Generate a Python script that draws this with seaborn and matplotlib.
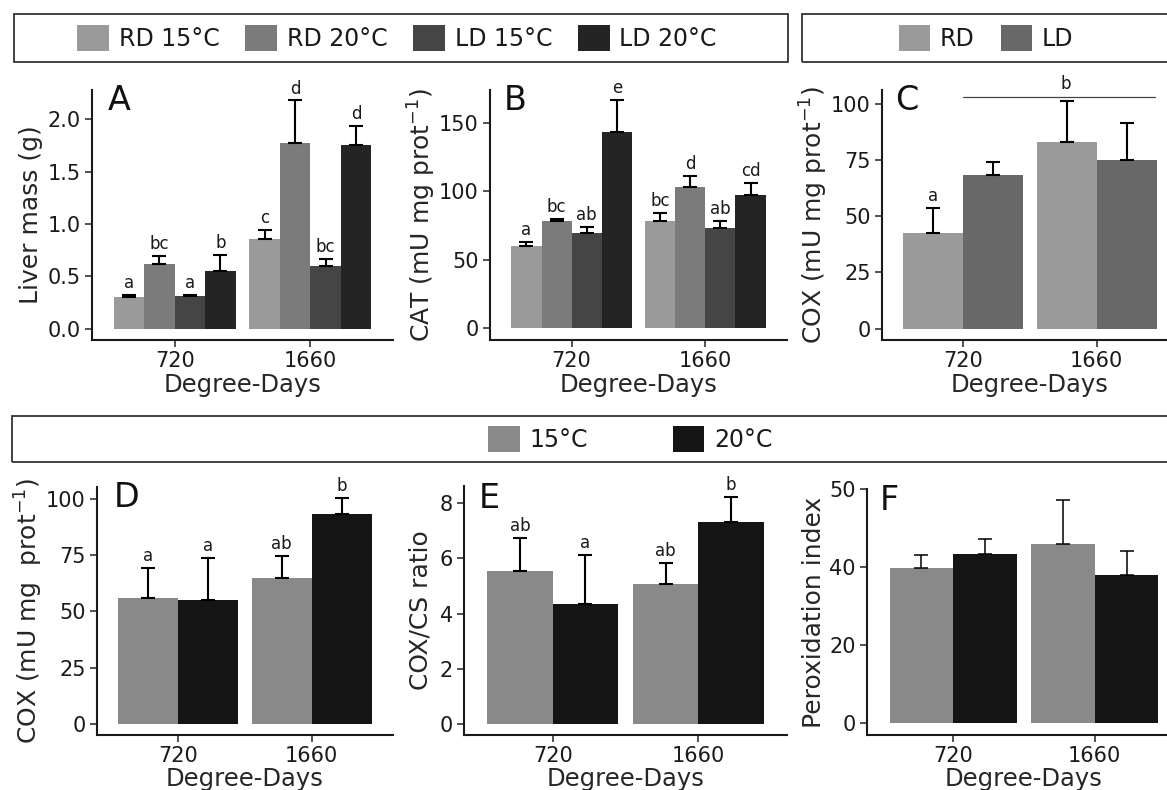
import pandas as pd
import matplotlib
matplotlib.use('Agg')
import matplotlib.pyplot as plt
import seaborn as sns
from matplotlib.patches import Rectangle, Patch

# categories
days = ['720', '1660']
groups_ab = ['RD 15°C', 'RD 20°C', 'LD 15°C', 'LD 20°C']
groups_c = ['RD', 'LD']
groups_def = ['15°C', '20°C']

# colours
pal_ab = ['#9a9a9a', '#7b7b7b', '#454545', '#242424']
pal_c = ['#9a9a9a', '#686868']
pal_def = ['#898989', '#141414']

# values are listed 720 first then 1660, groups in legend order
liver_mean = [0.30, 0.62, 0.31, 0.55, 0.86, 1.77, 0.60, 1.75]
liver_se = [0.02, 0.075, 0.015, 0.15, 0.08, 0.41, 0.07, 0.19]
liver_letters = ['a', 'bc', 'a', 'b', 'c', 'd', 'bc', 'd']

cat_mean = [59.8, 78.0, 69.5, 143.0, 78.0, 103.0, 73.0, 97.6]
cat_se = [3.1, 2.0, 4.4, 23.6, 6.0, 8.0, 5.0, 8.4]
cat_letters = ['a', 'bc', 'ab', 'e', 'bc', 'd', 'ab', 'cd']

coxc_mean = [42.4, 68.2, 83.0, 74.7]
coxc_se = [11.1, 5.6, 17.9, 16.7]
coxc_letters = ['a', '', '', '']
coxc_bracket = [0.0, 1.44, 103.0]   # x from, x to, y
coxc_bracket_letter = 'b'

coxd_mean = [56.0, 55.1, 64.8, 93.3]
coxd_se = [13.2, 18.8, 10.0, 7.1]
coxd_letters = ['a', 'a', 'ab', 'b']

ratio_mean = [5.55, 4.36, 5.08, 7.33]
ratio_se = [1.18, 1.76, 0.74, 0.91]
ratio_letters = ['ab', 'a', 'ab', 'b']

perox_mean = [39.7, 43.3, 46.0, 37.9]
perox_se = [3.3, 3.8, 11.1, 6.2]
perox_letters = ['', '', '', '']
perox_ticks = [0, 20, 40, 60]
perox_ticklabels = ['0', '20', '40', '50']


def make_df(groups, mean, se, letters):
    rows = []
    k = 0
    for d in days:
        for g in groups:
            rows.append({'dd': d, 'group': g, 'mean': mean[k], 'se': se[k], 'letter': letters[k]})
            k += 1
    return pd.DataFrame(rows)


sns.set_style('ticks')
plt.rcParams['font.family'] = ['DejaVu Sans']
plt.rcParams['text.color'] = '#1a1a1a'

W, H = 1167, 790
fig = plt.figure(figsize=(W / 100, H / 100), dpi=100)


def add_ax(x0, x1, y0, y1):
    return fig.add_axes([x0 / W, 1 - y1 / H, (x1 - x0) / W, (y1 - y0) / H])


def bar_panel(ax, df, groups, palette, ylim, yticks, ylabel, letter, letter_pos,
              ylab_x, yticklabels=None, elw=1.5):
    sns.barplot(data=df, x='dd', y='mean', hue='group', order=days, hue_order=groups,
                palette=palette, width=0.9, gap=0, errorbar=None, saturation=1,
                legend=False, linewidth=0, ax=ax)
    n = len(groups)
    w = 0.9 / n
    for bar in ax.patches:
        cx = bar.get_x() + bar.get_width() / 2
        ci = int(round(cx))
        hi = int(round((cx - ci + 0.45) / w - 0.5))
        row = df[(df['dd'] == days[ci]) & (df['group'] == groups[hi])].iloc[0]
        ax.errorbar(cx, row['mean'], yerr=[[0], [row['se']]], fmt='none',
                    ecolor='black', elinewidth=elw, capsize=5, capthick=elw)
        if row['letter']:
            ax.annotate(row['letter'], (cx, row['mean'] + row['se']), xytext=(0, 5),
                        textcoords='offset points', ha='center', va='baseline',
                        fontsize=12, color='#1a1a1a')
    ax.set_xlim(-0.61, 1.61)
    ax.set_ylim(*ylim)
    ax.set_yticks(yticks)
    if yticklabels is not None:
        ax.set_yticklabels(yticklabels)
    ax.set_xlabel('Degree-Days', fontsize=17.5)
    ax.set_ylabel(ylabel, fontsize=18)
    ax.xaxis.set_label_coords(0.5, -0.13)
    ax.yaxis.set_label_coords(ylab_x, 0.5)
    ax.tick_params(length=5, width=1.2, color='#333333', labelsize=15,
                   labelcolor='#1a1a1a', pad=3)
    sns.despine(ax=ax)
    for s in ['left', 'bottom']:
        ax.spines[s].set_linewidth(1.5)
        ax.spines[s].set_color('#1a1a1a')
    ax.text(letter_pos[0], letter_pos[1], letter, transform=ax.transAxes,
            fontsize=24, ha='left', va='baseline', color='#111111')


# top row
axA = add_ax(92, 393, 90, 340)
bar_panel(axA, make_df(groups_ab, liver_mean, liver_se, liver_letters), groups_ab, pal_ab,
          (-0.108, 2.28), [0, 0.5, 1.0, 1.5, 2.0], 'Liver mass (g)', 'A', (0.053, 0.92), -0.162)
axA.set_yticklabels(['0.0', '0.5', '1.0', '1.5', '2.0'])

axB = add_ax(490, 787, 90, 340)
bar_panel(axB, make_df(groups_ab, cat_mean, cat_se, cat_letters), groups_ab, pal_ab,
          (-8.7, 174), [0, 50, 100, 150], 'CAT (mU mg prot$^{-1}$)', 'B', (0.047, 0.92), -0.175)

axC = add_ax(882, 1178, 90, 340)
bar_panel(axC, make_df(groups_c, coxc_mean, coxc_se, coxc_letters), groups_c, pal_c,
          (-5.05, 106), [0, 25, 50, 75, 100], 'COX (mU mg prot$^{-1}$)', 'C', (0.044, 0.92), -0.176)
axC.plot(coxc_bracket[:2], [coxc_bracket[2]] * 2, color='#444444', lw=0.9)
axC.text(sum(coxc_bracket[:2]) / 2 + 0.05, coxc_bracket[2] + 1.5, coxc_bracket_letter,
         ha='center', va='bottom', fontsize=12)

# bottom row
axD = add_ax(96.7, 393, 487, 735)
bar_panel(axD, make_df(groups_def, coxd_mean, coxd_se, coxd_letters), groups_def, pal_def,
          (-5.0, 105.3), [0, 25, 50, 75, 100], 'COX (mU mg  prot$^{-1}$)', 'D', (0.056, 0.918), -0.175)

axE = add_ax(464, 787, 486, 735)
bar_panel(axE, make_df(groups_def, ratio_mean, ratio_se, ratio_letters), groups_def, pal_def,
          (-0.41, 8.63), [0, 2, 4, 6, 8], 'COX/CS ratio', 'E', (0.047, 0.91), -0.096)

axF = add_ax(867, 1181, 489, 735)
bar_panel(axF, make_df(groups_def, perox_mean, perox_se, perox_letters), groups_def, pal_def,
          (-3.0, 60), perox_ticks, 'Peroxidation index', 'F', (0.041, 0.914), -0.129,
          yticklabels=perox_ticklabels, elw=1.1)


# legend boxes
def legend_box(x0, x1, y0, y1, groups, palette, cx, colsp):
    fig.patches.append(Rectangle((x0 / W, 1 - y1 / H), (x1 - x0) / W, (y1 - y0) / H,
                                 transform=fig.transFigure, fill=False, lw=1.3,
                                 edgecolor='#333333', clip_on=False))
    handles = [Patch(facecolor=c, edgecolor='none', label=g) for g, c in zip(groups, palette)]
    fig.legend(handles=handles, loc='center', bbox_to_anchor=(cx / W, 1 - (y0 + y1) / 2 / H),
               ncol=len(groups), frameon=False, fontsize=17, handlelength=1.35,
               handleheight=1.3, handletextpad=0.4, columnspacing=colsp)


legend_box(14, 788, 14, 62, groups_ab, pal_ab, 397, 1.1)
legend_box(802, 1172, 14, 62, groups_c, pal_c, 986, 1.1)
legend_box(12, 1250, 416, 462, groups_def, pal_def, 630, 3.6)

fig.savefig('out.png', dpi=100)
